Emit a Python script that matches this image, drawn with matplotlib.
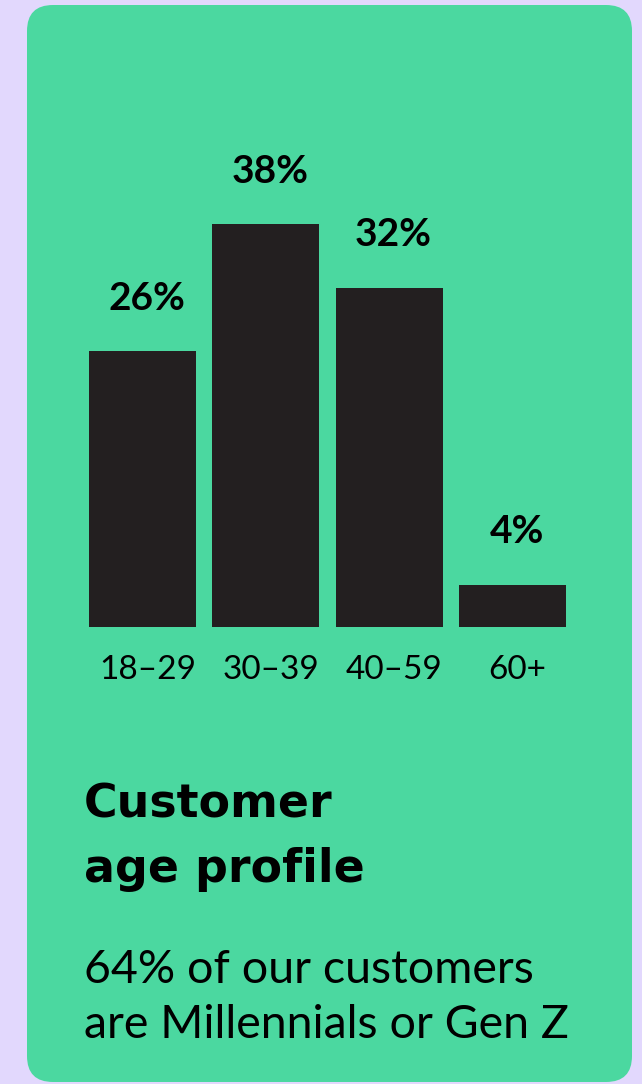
import matplotlib.pyplot as plt
from matplotlib.patches import FancyBboxPatch
from matplotlib.transforms import ScaledTranslation

age_groups = ["18–29", "30–39", "40–59", "60+"]
share_pct = [26, 38, 32, 4]
title_lines = ["Customer", "age profile"]
subtitle_lines = ["64% of our customers", "are Millennials or Gen Z"]

W, H = 642, 1084
bg_color = "#e2d8fd"
card_color = "#4bd8a0"
bar_color = "#231f20"

plt.rcParams['font.family'] = ['Lato', 'DejaVu Sans']

fig = plt.figure(figsize=(W / 100, H / 100), dpi=100)
fig.patch.set_facecolor(bg_color)

# background card, drawn in pixel units
bg = fig.add_axes([0, 0, 1, 1])
bg.set_xlim(0, W)
bg.set_ylim(H, 0)
bg.axis("off")
card = FancyBboxPatch((27, 5), 605, 1077, boxstyle="round,pad=0,rounding_size=26",
                      facecolor=card_color, edgecolor="none")
bg.add_patch(card)

def px(x, y):
    return x / W, 1 - y / H

# bar chart area
left, right, top, bottom = 81, 574, 150, 627
ax = fig.add_axes([left / W, 1 - bottom / H, (right - left) / W, (bottom - top) / H])
ax.set_facecolor("none")
xs = range(len(age_groups))
ax.bar(xs, share_pct, width=0.87, color=bar_color)
ax.set_xlim(-0.5, len(age_groups) - 0.5)
ax.set_ylim(0, 45)
for x, v in zip(xs, share_pct):
    ax.annotate(f"{v}%", (x, v), xytext=(3, 30), textcoords="offset points",
                ha="center", va="baseline", fontsize=28, fontweight="bold", color="black")
ax.set_xticks(list(xs))
ax.set_xticklabels(age_groups, fontsize=24)
ax.tick_params(axis="x", length=0, pad=20)
shift = ScaledTranslation(5 / 100, 0, fig.dpi_scale_trans)
for lbl in ax.get_xticklabels():
    lbl.set_transform(lbl.get_transform() + shift)
ax.set_yticks([])
for s in ax.spines.values():
    s.set_visible(False)

# title and subtitle, one text per line
for line, base in zip(title_lines, [817, 882]):
    fig.text(*px(84, base), line, fontsize=33, fontweight="bold", ha="left",
             va="baseline", family=["DejaVu Sans"])
for line, base in zip(subtitle_lines, [983, 1038]):
    fig.text(*px(84, base), line, fontsize=33.5, ha="left", va="baseline")

fig.savefig("out.png", dpi=100, facecolor=bg_color)
